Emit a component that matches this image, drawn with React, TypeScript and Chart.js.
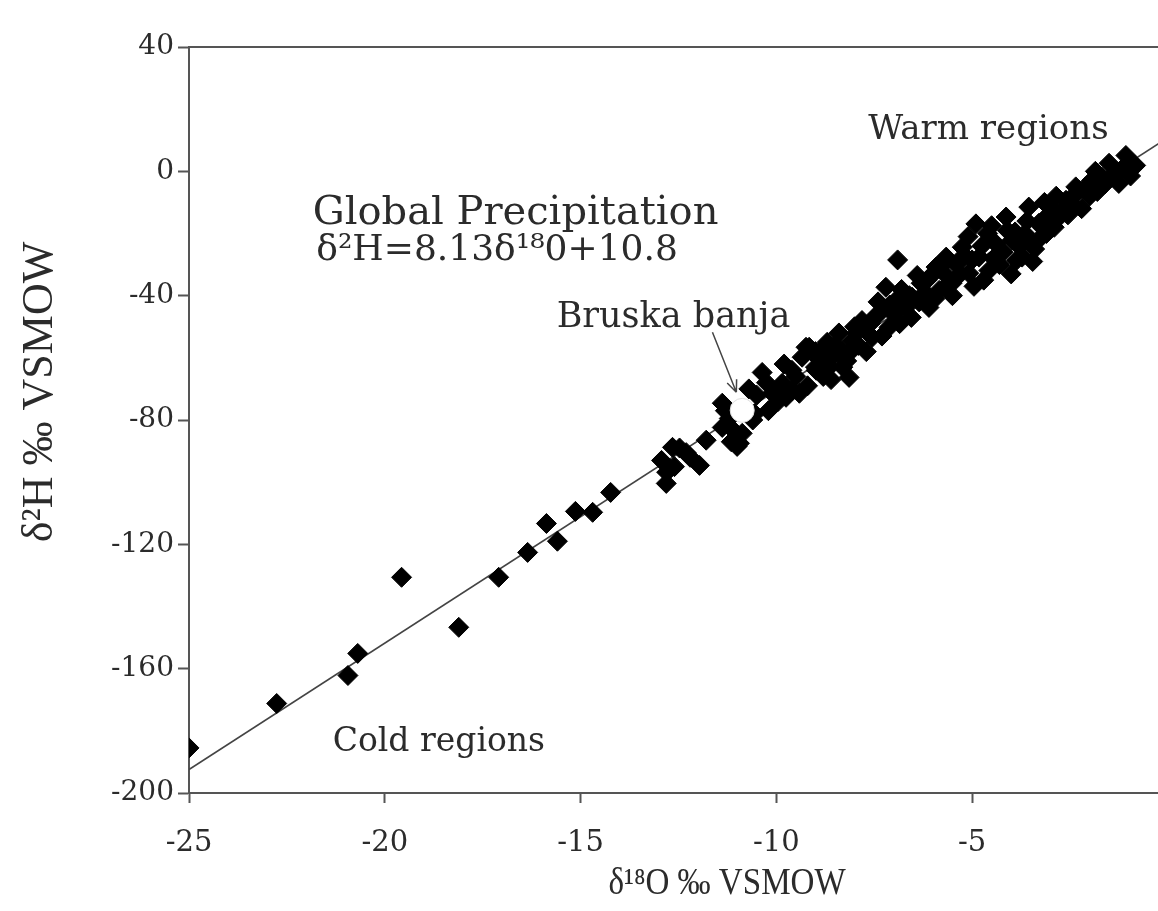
import React, { useEffect, useRef } from 'react';
import { Chart, registerables } from 'chart.js';

Chart.register(...registerables);

const xTicks = [-25, -20, -15, -10, -5, 0];
const yTicks = [-200, -160, -120, -80, -40, 0, 40];

const d18O = [
  -25, -22.76, -20.94, -20.69, -19.57, -18.11, -17.09, -16.35, -15.87, -15.59, -15.13, -14.69, -14.23,
  -12.93, -12.65, -12.81, -12.8, -12.47, -12.3, -11.96, -11.79, -11.38, -11.38, -10.94, -11.1, -10.87, -11.2,
  -10.5, -10.36, -10.1, -9.85, -9.6, -9.34, -9.41, -9.24, -9.75, -10.25, -9.95,
  -9.16, -8.14, -9.59, -8.65, -7.81, -7.37, -7.12, -8.06, -8.32, -7.55, -6.94, -7.2, -6.1, -6.53, -5.84, -5.51,
  -8.57, -8.98, -8.8, -8.4, -7.9, -7.6, -7.0, -6.7, -6.9, -6.3, -6.0, -8.9, -8.2, -6.4, -6.2, -5.7, -5.4, -6.8,
  -7.4, -7.7, -8.0, -8.5, -8.7, -9.0,
  -4.9, -4.13, -3.55, -4.39, -3.87, -4.57, -5.25, -5.66, -5.92, -5.59, -5.08, -3.98, -3.21, -2.7, -2.45, -3.55,
  -3.72, -4.82, -4.6, -4.2, -5.0, -4.45, -3.9, -3.4, -3.05,
  -1.07, -0.82, -1.5, -1.25, -1.68, -2.27, -2.6, -2.96, -3.29, -1.94, -2.78, -2.1, -2.4, -1.8, -3.1, -3.6,
  -9.8, -9.5, -9.2, -9.0, -8.8, -8.6, -8.3, -8.1, -7.95, -7.7, -7.5, -7.3, -7.1, -6.85, -6.6, -6.55, -6.35,
  -6.15, -5.95, -5.75, -5.5, -5.3, -5.2, -5.1, -4.95, -4.75, -4.7, -4.5, -4.3, -4.1, -4.0, -3.8, -3.65, -3.45,
  -3.3, -3.15, -2.9, -2.85, -2.55, -2.35, -2.2, -2.0, -1.85, -1.6, -1.4, -1.15, -0.95,
  -11.3, -11.0, -10.6, -10.7, -11.15, -10.2, -10.55, -12.6, -12.2,
];
const d2H = [
  -185.5, -171.2, -162.2, -155.1, -130.6, -146.7, -130.6, -122.6, -113.3, -119.0, -109.4, -109.7, -103.3,
  -93.0, -88.8, -100.4, -96.8, -89.0, -90.5, -94.6, -86.5, -82.4, -74.6, -87.5, -83.3, -84.3, -79.5,
  -72.0, -64.7, -71.4, -68.2, -64.0, -59.8, -71.4, -56.6, -72.7, -68.0, -74.0,
  -56.6, -66.3, -70.5, -63.0, -48.0, -45.7, -50.2, -54.4, -57.6, -53.4, -41.5, -37.3, -43.8, -40.5, -38.3, -36.0,
  -59.8, -64.0, -66.0, -52.0, -56.0, -49.0, -46.0, -44.0, -28.5, -36.0, -33.0, -60.5, -61.0, -33.5, -39.0, -33.0, -30.0, -38.0,
  -42.0, -51.5, -50.0, -56.0, -55.0, -58.0,
  -16.9, -14.7, -11.5, -23.3, -28.7, -31.9, -24.4, -27.6, -30.8, -36.0, -32.8, -22.2, -18.0, -12.5, -8.4, -22.2,
  -27.6, -27.6, -20.0, -26.0, -28.5, -28.0, -19.5, -25.0, -14.0,
  5.1, 1.9, 2.6, -3.9, -1.9, -6.1, -9.3, -11.6, -16.7, -2.9, -14.8, -5.0, -11.0, -6.5, -20.0, -16.0,
  -62.0, -66.0, -69.0, -63.0, -57.0, -67.0, -63.0, -58.0, -52.0, -58.0, -47.0, -53.0, -43.0, -49.0, -40.0, -47.0, -42.0,
  -35.0, -41.0, -30.0, -40.0, -33.0, -27.0, -21.0, -37.0, -24.0, -35.0, -17.5, -30.0, -19.0, -33.0, -24.0, -20.0, -29.0,
  -22.0, -10.0, -18.0, -8.0, -14.0, -5.0, -12.0, -8.0, 0.0, -4.0, -1.0, 1.0, -1.5,
  -77.0, -88.5, -80.0, -70.0, -87.0, -77.0, -78.0, -95.0, -92.0,
];

// Global meteoric water line: δ2H = 8.13 δ18O + 10.8 (end points)
const lineX = [-25, 0];
const lineY = [-192.45, 10.8];

// Bruska banja sample
const siteX = [-10.87];
const siteY = [-76.9];

const FONT = "'DejaVu Serif', 'Liberation Serif', serif";
const TFONT = "'Liberation Serif', 'Times New Roman', serif";
const INK = '#2b2b2b';
const AXIS = '#555555';

const annotPlugin = {
  id: 'annot',
  afterDraw(chart: any) {
    const { ctx, chartArea: a, scales } = chart;
    const x = scales.x;
    const y = scales.y;
    ctx.save();
    // frame (top and right)
    ctx.strokeStyle = AXIS;
    ctx.lineWidth = 2;
    ctx.beginPath();
    ctx.moveTo(a.left, a.top);
    ctx.lineTo(a.right, a.top);
    ctx.lineTo(a.right, a.bottom);
    ctx.stroke();

    ctx.fillStyle = INK;
    ctx.textAlign = 'left';
    ctx.textBaseline = 'middle';
    const t = (s: string, vx: number, vy: number, size: number) => {
      ctx.font = `${size}px ${FONT}`;
      ctx.fillText(s, x.getPixelForValue(vx), y.getPixelForValue(vy));
    };
    t('Warm regions', -7.65, 13.2, 34);
    t('Global Precipitation', -21.84, -13.5, 40);
    t('δ²H=8.13δ¹⁸0+10.8', -21.75, -25.4, 36);
    t('Bruska banja', -15.61, -47.3, 35);
    t('Cold regions', -21.33, -183.7, 33);

    // arrow to Bruska banja
    const x0 = x.getPixelForValue(-11.63);
    const y0 = y.getPixelForValue(-51.8);
    const x1 = x.getPixelForValue(-11.02);
    const y1 = y.getPixelForValue(-71.1);
    ctx.strokeStyle = '#444';
    ctx.lineWidth = 1.5;
    ctx.beginPath();
    ctx.moveTo(x0, y0);
    ctx.lineTo(x1, y1);
    const ang = Math.atan2(y1 - y0, x1 - x0);
    const hl = 13;
    ctx.moveTo(x1, y1);
    ctx.lineTo(x1 - hl * Math.cos(ang - 0.4), y1 - hl * Math.sin(ang - 0.4));
    ctx.moveTo(x1, y1);
    ctx.lineTo(x1 - hl * Math.cos(ang + 0.4), y1 - hl * Math.sin(ang + 0.4));
    ctx.stroke();

    // axis titles
    ctx.fillStyle = INK;
    ctx.textAlign = 'center';
    ctx.textBaseline = 'middle';
    ctx.save();
    ctx.translate(a.left + 538, a.bottom + 91);
    ctx.scale(0.87, 1);
    ctx.font = `38px ${TFONT}`;
    ctx.fillText('δ¹⁸O ‰ VSMOW', 0, 0);
    ctx.restore();
    ctx.font = `44px ${TFONT}`;
    ctx.translate(40, a.top + 345);
    ctx.rotate(-Math.PI / 2);
    ctx.fillText('δ²H ‰ VSMOW', 0, 0);
    ctx.restore();
  },
};

export default function App() {
  const ref = useRef<HTMLCanvasElement>(null);
  useEffect(() => {
    if (!ref.current) return;
    const chart = new Chart(ref.current, {
      type: 'scatter',
      data: {
        datasets: [
          {
            label: 'Bruska banja',
            data: siteX.map((v, i) => ({ x: v, y: siteY[i] })),
            pointStyle: 'circle',
            pointRadius: 12,
            backgroundColor: '#ffffff',
            borderColor: '#dddddd',
            borderWidth: 1,
            order: 0,
          },
          {
            label: 'Global precipitation',
            data: d18O.map((v, i) => ({ x: v, y: d2H[i] })),
            pointStyle: 'rectRot',
            pointRadius: 10,
            backgroundColor: '#000000',
            borderColor: '#000000',
            borderWidth: 1,
            order: 1,
          },
          {
            type: 'line',
            label: 'GMWL',
            data: lineX.map((v, i) => ({ x: v, y: lineY[i] })),
            borderColor: '#444444',
            borderWidth: 1.6,
            pointRadius: 0,
            showLine: true,
            fill: false,
            order: 2,
          } as any,
        ],
      },
      options: {
        responsive: false,
        animation: false,
        layout: { padding: { left: 0, top: 47, right: 31, bottom: 0 } },
        plugins: {
          legend: { display: false },
          tooltip: { enabled: false },
        },
        scales: {
          x: {
            type: 'linear',
            min: -25,
            max: 0,
            afterBuildTicks: (s: any) => {
              s.ticks = xTicks.map((v) => ({ value: v }));
            },
            afterFit: (s: any) => {
              s.height = 118;
            },
            grid: {
              drawOnChartArea: false,
              drawTicks: true,
              tickLength: 10,
              tickWidth: 2,
              tickColor: AXIS,
            },
            border: { display: true, color: AXIS, width: 2 },
            ticks: {
              color: INK,
              font: { family: FONT, size: 29 },
              padding: 23,
              maxRotation: 0,
            },
          },
          y: {
            type: 'linear',
            min: -200,
            max: 40,
            afterBuildTicks: (s: any) => {
              s.ticks = yTicks.map((v) => ({ value: v }));
            },
            afterFit: (s: any) => {
              s.width = 189;
            },
            grid: {
              drawOnChartArea: false,
              drawTicks: true,
              tickLength: 11,
              tickWidth: 2,
              tickColor: AXIS,
            },
            border: { display: true, color: AXIS, width: 2 },
            ticks: {
              color: INK,
              font: { family: FONT, size: 28 },
              padding: 4,
            },
          },
        },
      },
      plugins: [annotPlugin],
    });
    return () => chart.destroy();
  }, []);

  return (
    <div
      style={{
        position: 'fixed',
        left: 0,
        top: 0,
        width: 1158,
        height: 911,
        overflow: 'hidden',
        background: '#ffffff',
      }}
    >
      <canvas ref={ref} width={1200} height={911} style={{ display: 'block' }} />
    </div>
  );
}
